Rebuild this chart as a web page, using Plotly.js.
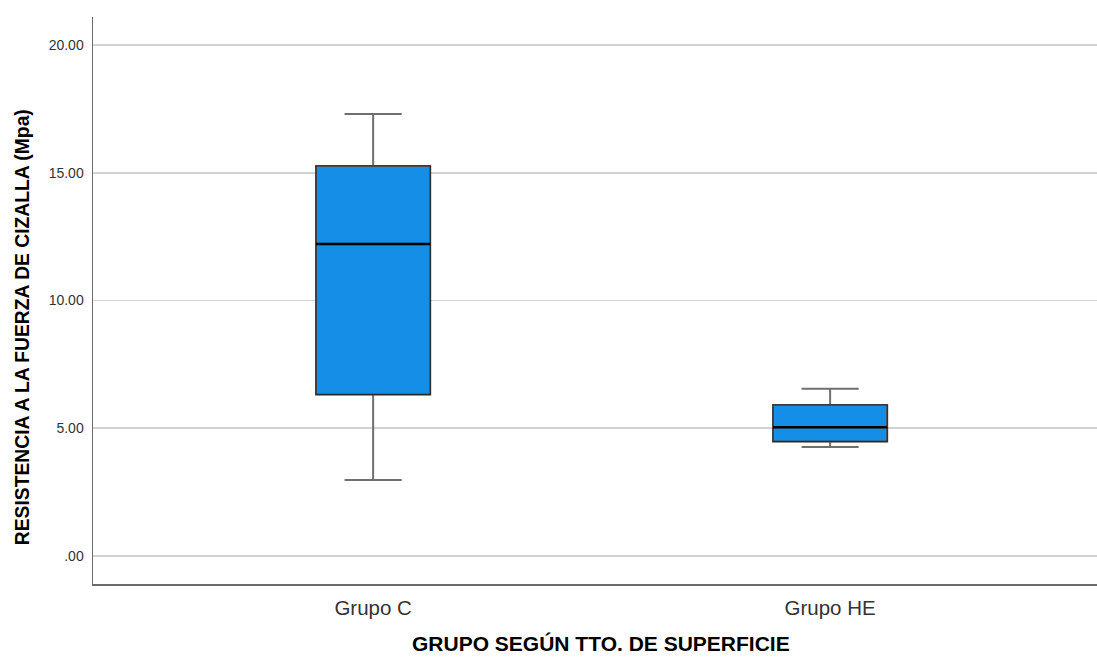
<!DOCTYPE html>
<html>
<head>
<meta charset="utf-8">
<script src="https://cdn.plot.ly/plotly-3.0.1.min.js"></script>
<style>html,body{margin:0;padding:0;background:#fff;}#chart{width:1097px;height:657px;}</style>
</head>
<body>
<div id="chart"></div>
<script>
var categories = ["Grupo C", "Grupo HE"];
var lowerWhisker = [2.97, 4.26];
var q1Values = [6.32, 4.48];
var medianValues = [12.21, 5.04];
var q3Values = [15.27, 5.91];
var upperWhisker = [17.30, 6.54];
var yTickValues = [0, 5, 10, 15, 20];
var yTickLabels = [".00", "5.00", "10.00", "15.00", "20.00"];
var xTitle = "GRUPO SEGÚN TTO. DE SUPERFICIE";
var yTitle = "RESISTENCIA A LA FUERZA DE CIZALLA (Mpa)";

var common = {
  type: "box",
  x: categories,
  width: 0.25,
  whiskerwidth: 0.5,
  boxpoints: false,
  hoverinfo: "none",
  showlegend: false
};

// whiskers (gray) + fill
var tWhisk = Object.assign({}, common, {
  q1: q1Values, median: medianValues, q3: q3Values,
  lowerfence: lowerWhisker, upperfence: upperWhisker,
  fillcolor: "#148ee6",
  line: {color: "#6f6f6f", width: 2}
});
// box outline (dark)
var tBox = Object.assign({}, common, {
  q1: q1Values, median: medianValues, q3: q3Values,
  lowerfence: q1Values, upperfence: q3Values,
  whiskerwidth: 0,
  fillcolor: "rgba(0,0,0,0)",
  line: {color: "#2b2b2b", width: 1.3}
});
// median (black, thick)
var tMed = Object.assign({}, common, {
  q1: medianValues, median: medianValues, q3: medianValues,
  lowerfence: medianValues, upperfence: medianValues,
  whiskerwidth: 0,
  fillcolor: "rgba(0,0,0,0)",
  line: {color: "#000000", width: 2.5}
});

var titleFont = {family: "Liberation Sans, Arial, sans-serif", color: "#000", weight: "bold"};

var layout = {
  width: 1097,
  height: 657,
  margin: {l: 93, r: 0, t: 17, b: 73},
  paper_bgcolor: "#ffffff",
  plot_bgcolor: "#ffffff",
  boxmode: "overlay",
  font: {family: "Liberation Sans, Arial, sans-serif", color: "#333"},
  xaxis: {
    type: "category",
    range: [-0.613, 1.584],
    showgrid: false,
    zeroline: false,
    showline: true,
    linecolor: "#6a6a6a",
    linewidth: 1.5,
    ticks: "",
    ticklabelstandoff: 5,
    tickfont: {size: 20.5, color: "#333"}
  },
  yaxis: {
    range: [-1.1, 21.1],
    tickvals: yTickValues,
    ticktext: yTickLabels,
    showgrid: true,
    gridcolor: "#d2d2d2",
    gridwidth: 1.5,
    zeroline: false,
    showline: true,
    linecolor: "#6a6a6a",
    linewidth: 1.5,
    ticks: "",
    ticklabelstandoff: 5,
    tickfont: {size: 14, color: "#333"}
  },
  annotations: [
    {text: xTitle, xref: "paper", yref: "paper", x: 0.506, y: -0.127,
     xanchor: "center", yanchor: "bottom", showarrow: false, borderpad: 0,
     font: Object.assign({size: 21}, titleFont)},
    {text: yTitle, xref: "paper", yref: "paper", x: -0.0707, y: 0.453,
     xanchor: "center", yanchor: "middle", textangle: -90, showarrow: false,
     font: Object.assign({size: 19.3}, titleFont)}
  ]
};

Plotly.newPlot("chart", [tWhisk, tBox, tMed], layout, {displayModeBar: false, staticPlot: true});
</script>
</body>
</html>
